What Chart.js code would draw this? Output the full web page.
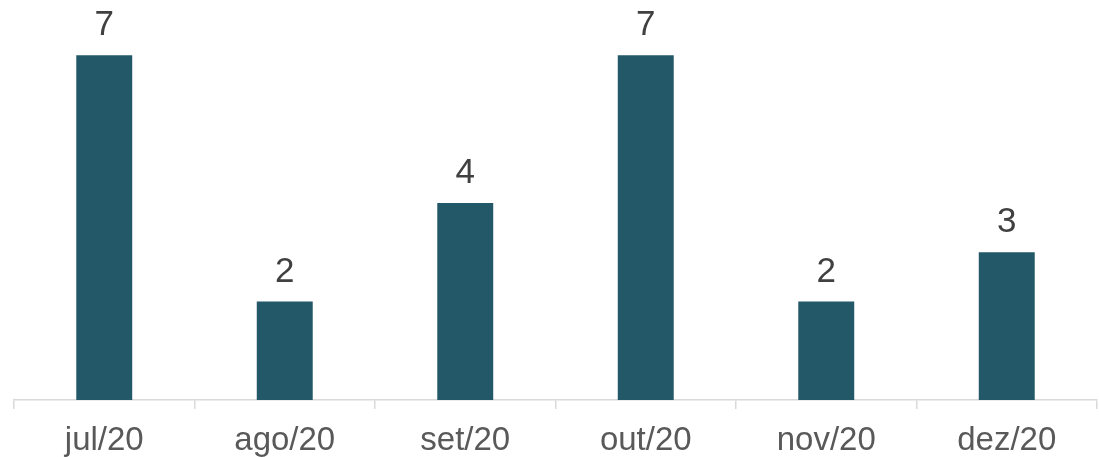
<!DOCTYPE html>
<html>
<head>
<meta charset="utf-8">
<script src="https://cdn.jsdelivr.net/npm/chart.js@4"></script>
<style>
html,body{margin:0;padding:0;background:#fff;}
#wrap{width:1099px;height:457px;position:relative;}
</style>
</head>
<body>
<div id="wrap"><canvas id="c"></canvas></div>
<script>
const categories = ["jul/20","ago/20","set/20","out/20","nov/20","dez/20"];
const values = [7,2,4,7,2,3];

const labelPlugin = {
  id: 'valueLabels',
  afterDatasetsDraw(chart) {
    const ctx = chart.ctx;
    const meta = chart.getDatasetMeta(0);
    ctx.save();
    ctx.font = '35px "Liberation Sans", Arial, sans-serif';
    ctx.fillStyle = '#404040';
    ctx.textAlign = 'center';
    ctx.textBaseline = 'alphabetic';
    meta.data.forEach((bar, i) => {
      ctx.fillText(String(values[i]), bar.x, bar.y - 20);
    });
    ctx.restore();
  }
};

new Chart(document.getElementById('c'), {
  type: 'bar',
  data: {
    labels: categories,
    datasets: [{
      data: values,
      backgroundColor: '#235868',
      borderWidth: 0,
      barPercentage: 0.31,
      categoryPercentage: 1.0
    }]
  },
  options: {
    responsive: true,
    maintainAspectRatio: false,
    animation: false,
    layout: { padding: { left: 14, right: 2, top: 6, bottom: 0 } },
    plugins: { legend: { display: false }, tooltip: { enabled: false } },
    scales: {
      y: { display: false, min: 0, max: 8 },
      x: {
        afterFit(scale) { scale.height = 57; },
        border: { display: true, color: '#d9d9d9', width: 1.5 },
        grid: { offset: true, drawOnChartArea: false, drawTicks: true, tickLength: 9, color: '#d9d9d9', lineWidth: 1.5 },
        ticks: { color: '#595959', font: { size: 33, family: '"Liberation Sans", Arial, sans-serif' }, padding: 12 }
      }
    }
  },
  plugins: [labelPlugin]
});
</script>
</body>
</html>
